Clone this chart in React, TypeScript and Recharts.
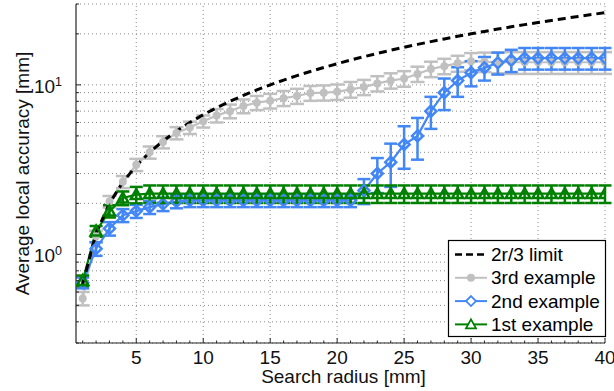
import React from "react";
import { ComposedChart, Line, XAxis, YAxis, CartesianGrid, ErrorBar, ReferenceLine } from "recharts";

// search radius [mm]
const radius = [
  1, 2, 3, 4, 5, 6, 7, 8, 9, 10, 11, 12, 13, 14, 15, 16, 17, 18, 19, 20,
  21, 22, 23, 24, 25, 26, 27, 28, 29, 30, 31, 32, 33, 34, 35, 36, 37, 38, 39, 40,
];

// 2r/3 limit
const limit = [
  0.667, 1.333, 2.0, 2.667, 3.333, 4.0, 4.667, 5.333, 6.0, 6.667,
  7.333, 8.0, 8.667, 9.333, 10.0, 10.667, 11.333, 12.0, 12.667, 13.333,
  14.0, 14.667, 15.333, 16.0, 16.667, 17.333, 18.0, 18.667, 19.333, 20.0,
  20.667, 21.333, 22.0, 22.667, 23.333, 24.0, 24.667, 25.333, 26.0, 26.667,
];

// 3rd example (gray)
const third = [
  0.55, 1.28, 2.05, 2.68, 3.38, 4.0, 4.6, 5.2, 5.6, 6.1,
  6.6, 7.0, 7.5, 7.85, 8.05, 8.35, 8.6, 8.95, 9.0, 9.1,
  9.4, 9.7, 10.2, 10.6, 10.9, 11.6, 12.4, 12.9, 13.4, 13.8,
  13.7, 13.6, 13.6, 13.6, 13.6, 13.6, 13.6, 13.6, 13.6, 13.6,
];
const thirdErr = [
  0.05, 0.1, 0.16, 0.22, 0.28, 0.33, 0.38, 0.43, 0.47, 0.5,
  0.6, 0.65, 0.7, 0.75, 0.8, 0.85, 0.88, 0.9, 0.92, 0.95,
  1.0, 1.0, 1.05, 1.1, 1.15, 1.2, 1.3, 1.35, 1.45, 1.6,
  1.8, 1.9, 2.0, 2.0, 2.0, 2.0, 2.0, 2.0, 2.0, 2.0,
];

// 2nd example (blue)
const second = [
  0.68, 1.08, 1.42, 1.7, 1.8, 1.9, 1.98, 2.05, 2.08, 2.08,
  2.08, 2.08, 2.08, 2.08, 2.08, 2.08, 2.08, 2.08, 2.08, 2.08,
  2.08, 2.38, 3.0, 3.5, 4.45, 5.0, 7.0, 9.0, 10.6, 11.8,
  12.6, 13.5, 14.0, 14.4, 14.4, 14.4, 14.4, 14.4, 14.4, 14.4,
];
const secondErr = [
  0.05, 0.1, 0.13, 0.15, 0.16, 0.17, 0.18, 0.18, 0.18, 0.18,
  0.18, 0.18, 0.18, 0.18, 0.18, 0.18, 0.18, 0.18, 0.18, 0.18,
  0.18, 0.4, 0.7, 1.0, 1.25, 1.38, 1.5, 1.9, 2.1, 2.0,
  2.0, 2.0, 2.1, 2.1, 2.1, 2.1, 2.1, 2.1, 2.1, 2.1,
];

// 1st example (green)
const first = [
  0.7, 1.37, 1.8, 2.15, 2.25, 2.28, 2.28, 2.28, 2.28, 2.28,
  2.28, 2.28, 2.28, 2.28, 2.28, 2.28, 2.28, 2.28, 2.28, 2.28,
  2.28, 2.28, 2.28, 2.28, 2.28, 2.28, 2.28, 2.28, 2.28, 2.28,
  2.28, 2.28, 2.28, 2.28, 2.28, 2.28, 2.28, 2.28, 2.28, 2.28,
];
const firstErr = [
  0.05, 0.1, 0.15, 0.2, 0.25, 0.27, 0.27, 0.27, 0.27, 0.27,
  0.27, 0.27, 0.27, 0.27, 0.27, 0.27, 0.27, 0.27, 0.27, 0.27,
  0.27, 0.27, 0.27, 0.27, 0.27, 0.27, 0.27, 0.27, 0.27, 0.27,
  0.27, 0.27, 0.27, 0.27, 0.27, 0.27, 0.27, 0.27, 0.27, 0.27,
];

const xTicks = radius;
const xMajor = [5, 10, 15, 20, 25, 30, 35, 40];
const yTicks = [
  0.3, 0.4, 0.5, 0.6, 0.7, 0.8, 0.9, 1, 2, 3, 4, 5, 6, 7, 8, 9, 10, 20, 30,
];
const yMajor = [1, 10];
const yExp: Record<number, string> = { 1: "0", 10: "1" };

const legendNames = ["2r/3 limit", "3rd example", "2nd example", "1st example"];

const data = radius.map((r, i) => ({
  r,
  limit: limit[i],
  third: third[i],
  thirdErr: thirdErr[i],
  second: second[i],
  secondErr: secondErr[i],
  first: first[i],
  firstErr: firstErr[i],
}));

const GRAY = "#c0c0c0";
const BLUE = "#4287f5";
const GREEN = "#008000";
const AXIS = "#262626";
const FONT = "'Liberation Sans', Arial, sans-serif";

const grayDot = (p: any) =>
  p.cx == null ? null : <circle key={`g${p.index}`} cx={p.cx} cy={p.cy} r={4} fill={GRAY} />;

const diamond = (cx: number, cy: number, s: number) =>
  `M${cx},${cy - s}L${cx + s},${cy}L${cx},${cy + s}L${cx - s},${cy}Z`;
const triangle = (cx: number, cy: number, s: number) =>
  `M${cx},${cy - s}L${cx + s},${cy + s * 0.8}L${cx - s},${cy + s * 0.8}Z`;

const blueDot = (p: any) =>
  p.cx == null ? null : (
    <path key={`b${p.index}`} d={diamond(p.cx, p.cy, 5.5)} fill="none" stroke={BLUE} strokeWidth={2.5} />
  );
const greenDot = (p: any) =>
  p.cx == null ? null : (
    <path key={`t${p.index}`} d={triangle(p.cx, p.cy, 5.5)} fill="none" stroke={GREEN} strokeWidth={2.5} />
  );

const XTick = (props: any) => {
  const { x, y, payload } = props;
  const major = xMajor.includes(payload.value);
  return (
    <g>
      <line x1={x} y1={y} x2={x} y2={y - (major ? 5 : 2.5)} stroke={AXIS} strokeWidth={1} />
      {major && (
        <text x={x} y={y + 21} textAnchor="middle" fontSize={19} fontFamily={FONT} fill="#111">
          {payload.value}
        </text>
      )}
    </g>
  );
};

const YTick = (props: any) => {
  const { x, y, payload } = props;
  const major = yMajor.includes(payload.value);
  return (
    <g>
      <line x1={x} y1={y} x2={x + (major ? 5 : 3)} y2={y} stroke={AXIS} strokeWidth={1} />
      {major && (
        <text x={x - 14} y={y + 8} textAnchor="end" fontSize={19} fontFamily={FONT} fill="#111">
          <tspan>10</tspan>
          <tspan fontSize={12.5} dy={-7}>
            {yExp[payload.value]}
          </tspan>
        </text>
      )}
    </g>
  );
};

const Legend = () => {
  const left = 448;
  const top = 240;
  const rows = [254.5, 277.8, 301.1, 324.4];
  return (
    <svg
      width={614}
      height={391}
      style={{ position: "absolute", left: 0, top: 0, pointerEvents: "none" }}
    >
      <rect x={left + 0.5} y={top + 0.5} width={157} height={96} fill="#fff" stroke="#000" strokeWidth={1.2} />
      {legendNames.map((name, i) => {
        const cy = rows[i];
        const color = [AXIS, GRAY, BLUE, GREEN][i];
        return (
          <g key={name}>
            <line
              x1={455}
              x2={487}
              y1={cy}
              y2={cy}
              stroke={i === 0 ? "#000" : color}
              strokeWidth={i === 0 ? 2.5 : 2}
              strokeDasharray={i === 0 ? "7 4" : undefined}
            />
            {i === 1 && <circle cx={471} cy={cy} r={4} fill={GRAY} />}
            {i === 2 && <path d={diamond(471, cy, 5)} fill="#fff" stroke={BLUE} strokeWidth={1.8} />}
            {i === 3 && <path d={triangle(471, cy, 5)} fill="#fff" stroke={GREEN} strokeWidth={1.8} />}
            <text x={491} y={cy + 6.5} fontSize={19} fontFamily={FONT} fill="#000">
              {name}
            </text>
          </g>
        );
      })}
    </svg>
  );
};

export default function App() {
  return (
    <div style={{ position: "absolute", left: 0, top: 0, width: 614, height: 391, background: "#fff" }}>
      <ComposedChart
        width={614}
        height={391}
        data={data}
        margin={{ top: 4, right: 9, bottom: 0, left: 0 }}
      >
        <CartesianGrid vertical={false} stroke="#8a8a8a" strokeDasharray="1 3" />
        {xMajor.map((v) => (
          <ReferenceLine key={v} x={v} stroke="#8a8a8a" strokeDasharray="1 3" />
        ))}
        <XAxis
          dataKey="r"
          type="number"
          domain={[0.5, 40]}
          allowDataOverflow
          ticks={xTicks}
          interval={0}
          height={48}
          tickSize={0}
          tickMargin={0}
          tickLine={false}
          tick={<XTick />}
          axisLine={{ stroke: AXIS, strokeWidth: 1.2 }}
          label={{
            content: (p: any) => (
              <text
                x={p.viewBox.x + p.viewBox.width / 2 + 3}
                y={p.viewBox.y + 40}
                textAnchor="middle"
                fontSize={19}
                fontFamily={FONT}
                fill="#111"
              >
                Search radius [mm]
              </text>
            ),
          }}
        />
        <YAxis
          scale="log"
          type="number"
          domain={[0.3, 30]}
          allowDataOverflow
          ticks={yTicks}
          interval={0}
          width={76}
          tickSize={0}
          tickMargin={0}
          tickLine={false}
          tick={<YTick />}
          axisLine={{ stroke: AXIS, strokeWidth: 1.2 }}
          label={{
            content: (p: any) => {
              const cx = 29;
              const cy = p.viewBox.y + p.viewBox.height / 2;
              return (
                <text
                  x={cx}
                  y={cy}
                  transform={`rotate(-90 ${cx} ${cy})`}
                  textAnchor="middle"
                  fontSize={19}
                  fontFamily={FONT}
                  fill="#111"
                >
                  Average local accuracy [mm]
                </text>
              );
            },
          }}
        />
        <Line
          dataKey="third"
          stroke={GRAY}
          strokeWidth={2.2}
          dot={grayDot}
          activeDot={false}
          isAnimationActive={false}
        >
          <ErrorBar dataKey="thirdErr" stroke={GRAY} strokeWidth={2.5} width={7} />
        </Line>
        <Line
          dataKey="second"
          stroke={BLUE}
          strokeWidth={2.2}
          dot={blueDot}
          activeDot={false}
          isAnimationActive={false}
        >
          <ErrorBar dataKey="secondErr" stroke={BLUE} strokeWidth={2.5} width={6.5} />
        </Line>
        <Line
          dataKey="first"
          stroke={GREEN}
          strokeWidth={2.2}
          dot={greenDot}
          activeDot={false}
          isAnimationActive={false}
        >
          <ErrorBar dataKey="firstErr" stroke={GREEN} strokeWidth={2.5} width={6.5} />
        </Line>
        <Line
          dataKey="limit"
          stroke="#000"
          strokeWidth={3}
          strokeDasharray="8 5"
          dot={false}
          activeDot={false}
          isAnimationActive={false}
        />
      </ComposedChart>
      <Legend />
    </div>
  );
}
